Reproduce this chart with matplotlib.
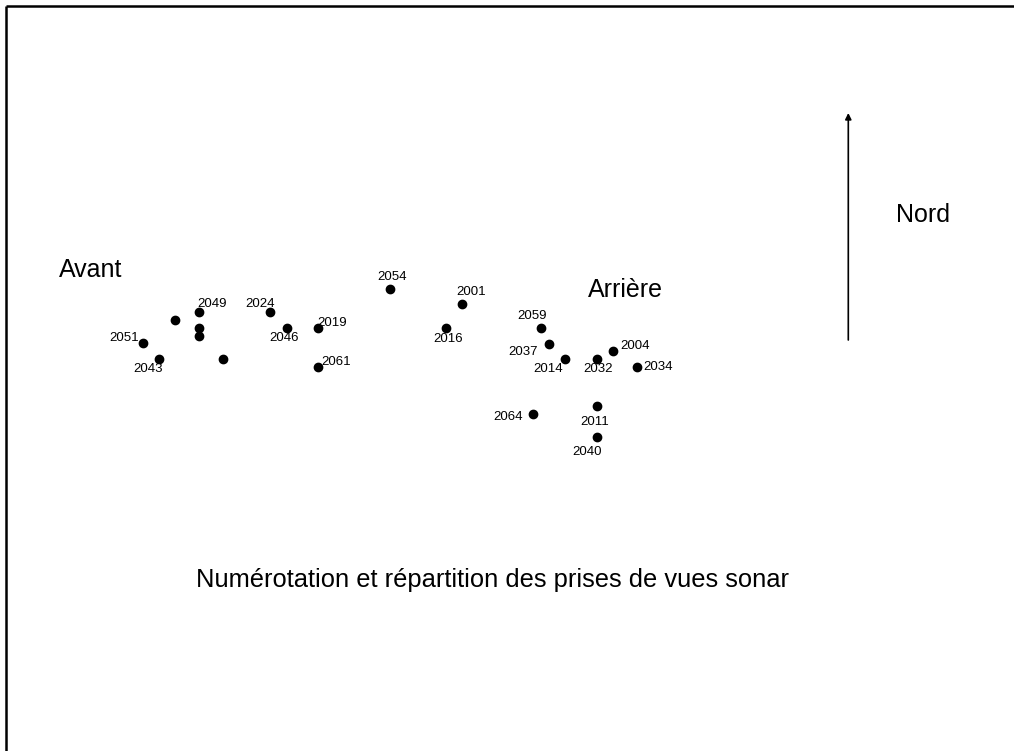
import matplotlib
matplotlib.use("Agg")
import matplotlib.pyplot as plt

plt.rcParams["font.family"] = ["Liberation Sans", "DejaVu Sans"]

# positions des prises de vues (coordonnées du plan, y vers le bas)
shot_x = [142.7, 159, 175, 198.7, 198.7, 198.7, 222.7, 270.3, 286.7, 318.3, 318.3,
          390, 461.7, 445.7, 541.3, 549, 565.3, 597, 613.3, 636.7, 533.3, 597, 597]
shot_y = [343.3, 359.3, 320.3, 312.3, 327.7, 336, 359.3, 312.3, 327.7, 328.3, 366.7,
          289, 304.3, 327.7, 328, 343.7, 359, 359, 351, 367.3, 414, 406, 437.3]

# numéros et emplacement des étiquettes
label_text = ["2051", "2043", "2049", "2024", "2046", "2019", "2061", "2054", "2001",
              "2016", "2059", "2037", "2014", "2032", "2004", "2034", "2064", "2011", "2040"]
label_x = [124, 148.5, 212.5, 260, 284, 332, 336.5, 392, 471.5, 448, 532, 523, 548,
           598.5, 635, 658, 508, 595, 587.5]
label_y = [338, 369, 304, 304, 338, 323, 362, 276.5, 292, 338.5, 316, 352, 368.5,
           368.5, 346, 367, 417, 422, 452]

W, H = 1014, 751
fig = plt.figure(figsize=(W / 100, H / 100), dpi=100)
ax = fig.add_axes([0, 0, 1, 1])
ax.set_xlim(0, W)
ax.set_ylim(H, 0)
ax.axis("off")

# cadre (haut et gauche)
ax.plot([6, W], [6, 6], color="black", lw=1.8, solid_capstyle="butt")
ax.plot([6, 6], [6, H], color="black", lw=1.8, solid_capstyle="butt")

ax.plot(shot_x, shot_y, "o", color="black", ms=6, mec="black")

for t, x, y in zip(label_text, label_x, label_y):
    ax.text(x, y, t, fontsize=9.5, ha="center", va="center")

ax.text(91, 270, "Avant", fontsize=18, ha="center", va="center")
ax.text(625, 290, "Arrière", fontsize=18, ha="center", va="center")
ax.text(923, 215, "Nord", fontsize=18, ha="center", va="center")
ax.text(492, 580, "Numérotation et répartition des prises de vues sonar",
        fontsize=18.4, ha="center", va="center")

# flèche du nord
ax.annotate("", xy=(848.3, 113), xytext=(848.3, 340),
            arrowprops=dict(arrowstyle="-|>", color="black", lw=1.2,
                            mutation_scale=9, shrinkA=0, shrinkB=0))

fig.savefig("out.png", dpi=100)
